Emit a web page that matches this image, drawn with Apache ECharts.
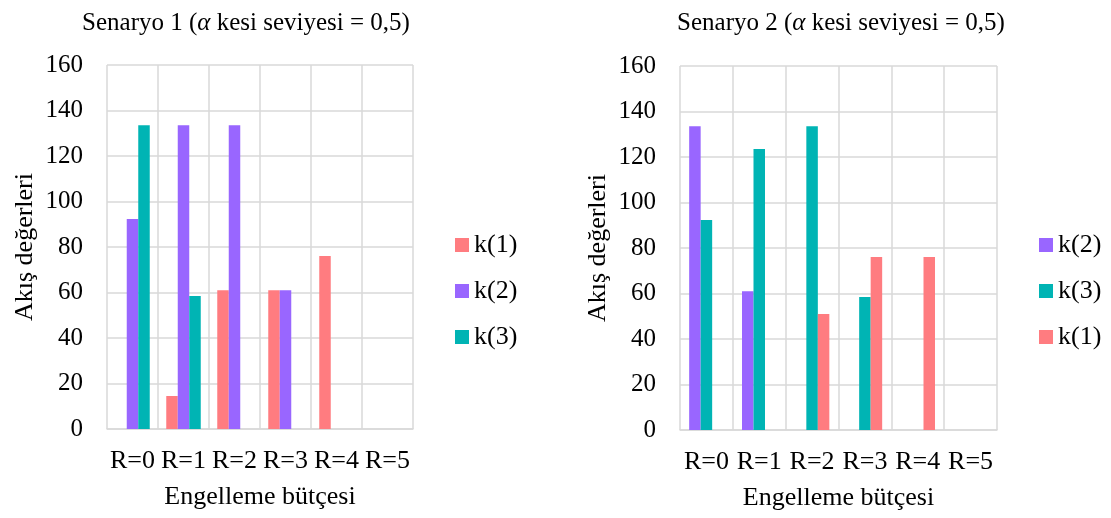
<!DOCTYPE html>
<html>
<head>
<meta charset="utf-8">
<script src="https://cdn.jsdelivr.net/npm/echarts@6/dist/echarts.min.js"></script>
<style>
  html, body { margin: 0; padding: 0; background: #fff; }
  #chart { width: 1111px; height: 518px; }
</style>
</head>
<body>
<div id="chart"></div>
<script>
// Budget categories shared by both scenarios
const categories = ['R=0', 'R=1', 'R=2', 'R=3', 'R=4', 'R=5'];
const yTicks = { min: 0, max: 160, step: 20 };

// Scenario 1 flows
const s1_k1 = [0, 14.5, 61, 61, 76, 0];
const s1_k2 = [92.3, 133.5, 133.5, 61, 0, 0];
const s1_k3 = [133.5, 58.5, 0, 0, 0, 0];

// Scenario 2 flows
const s2_k2 = [133.5, 61, 0, 0, 0, 0];
const s2_k3 = [92.3, 123.5, 133.5, 58.5, 0, 0];
const s2_k1 = [0, 0, 51, 76, 76, 0];

const colors = { 'k(1)': '#FF7C80', 'k(2)': '#9966FF', 'k(3)': '#00B4B4' };
const FONT = '"Liberation Serif", "Times New Roman", serif';
const GRID_COLOR = '#D9D9D9';

const grids = [
  { left: 107, right: 698, top: 65, bottom: 89 },
  { left: 680, right: 114, top: 66, bottom: 88 }
];

function xAxis(i) {
  return {
    type: 'category', gridIndex: i, data: categories,
    name: 'Engelleme bütçesi', nameLocation: 'middle', nameGap: 55,
    nameTextStyle: { fontFamily: FONT, fontSize: 26, color: '#000' },
    axisLine: { lineStyle: { color: GRID_COLOR, width: 1.5 } },
    axisTick: { show: false },
    axisLabel: { fontFamily: FONT, fontSize: 26, color: '#000', margin: 19, interval: 0 },
    splitLine: { show: true, lineStyle: { color: GRID_COLOR, width: 1.5 } }
  };
}

function yAxis(i) {
  return {
    type: 'value', gridIndex: i, min: yTicks.min, max: yTicks.max, interval: yTicks.step,
    name: 'Akış değerleri', nameLocation: 'middle', nameGap: 69, nameRotate: 90,
    nameTextStyle: { fontFamily: FONT, fontSize: 26, color: '#000' },
    axisLine: { show: false },
    axisTick: { show: false },
    axisLabel: { fontFamily: FONT, fontSize: 25, color: '#000', margin: 24 },
    splitLine: { show: true, lineStyle: { color: GRID_COLOR, width: 1.5 } }
  };
}

function bar(name, data, i) {
  return {
    type: 'bar', name, data, xAxisIndex: i, yAxisIndex: i,
    barWidth: 11.5, barGap: '0%',
    itemStyle: { color: colors[name] },
    emphasis: { disabled: true }
  };
}

function title(n, left) {
  return {
    text: '{a|Senaryo ' + n + ' (}{i|α}{a| kesi seviyesi = 0,5)}',
    left, top: 6, textAlign: 'center',
    textStyle: {
      fontWeight: 'normal',
      rich: {
        a: { fontFamily: FONT, fontSize: 25, fontWeight: 'normal', color: '#000' },
        i: { fontFamily: FONT, fontSize: 25, fontWeight: 'normal', color: '#000', fontStyle: 'italic' }
      }
    }
  };
}

function legend(order, left) {
  return {
    orient: 'vertical', left, top: 232, padding: 0,
    data: order, icon: 'rect', itemWidth: 14, itemHeight: 14, itemGap: 20,
    selectedMode: false,
    textStyle: { fontFamily: FONT, fontSize: 26, color: '#000' }
  };
}

const chart = echarts.init(document.getElementById('chart'), null, { renderer: 'canvas' });
chart.setOption({
  animation: false,
  backgroundColor: '#fff',
  title: [title(1, 241), title(2, 836)],
  legend: [legend(['k(1)', 'k(2)', 'k(3)'], 455), legend(['k(2)', 'k(3)', 'k(1)'], 1039)],
  grid: grids,
  xAxis: [xAxis(0), xAxis(1)],
  yAxis: [yAxis(0), yAxis(1)],
  series: [
    bar('k(1)', s1_k1, 0), bar('k(2)', s1_k2, 0), bar('k(3)', s1_k3, 0),
    bar('k(2)', s2_k2, 1), bar('k(3)', s2_k3, 1), bar('k(1)', s2_k1, 1)
  ]
});
</script>
</body>
</html>
